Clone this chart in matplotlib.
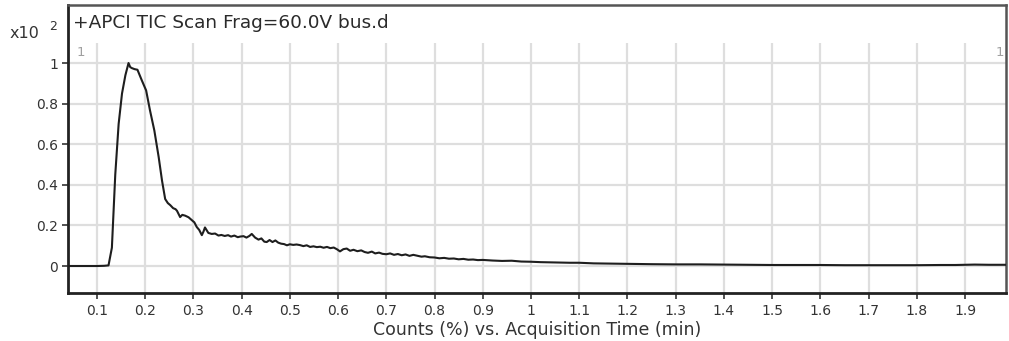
import matplotlib
matplotlib.use("Agg")
import matplotlib.pyplot as plt

plt.rcParams['font.family'] = ['DejaVu Sans']

# Total ion chromatogram (counts in units of 10^2)
times = [0.04, 0.06, 0.08, 0.10, 0.115, 0.124, 0.131, 0.138, 0.145, 0.152,
         0.159, 0.1655, 0.169, 0.1725, 0.178, 0.184, 0.193, 0.202, 0.210, 0.219,
         0.228, 0.235, 0.2415, 0.247, 0.252, 0.258, 0.263, 0.266, 0.2725, 0.277,
         0.283, 0.290, 0.297, 0.302, 0.307, 0.312, 0.3175, 0.321, 0.324, 0.328,
         0.331, 0.338, 0.345, 0.352, 0.358, 0.365, 0.372, 0.378, 0.385, 0.392,
         0.397, 0.404, 0.41, 0.416, 0.421, 0.428, 0.435, 0.441, 0.447, 0.452,
         0.458, 0.464, 0.470, 0.476, 0.482, 0.488, 0.494, 0.50, 0.507, 0.514,
         0.521, 0.528, 0.535, 0.542, 0.549, 0.556, 0.563, 0.570, 0.577, 0.584,
         0.591, 0.598, 0.604, 0.611, 0.618, 0.625, 0.632, 0.64, 0.648, 0.655,
         0.662, 0.67, 0.677, 0.685, 0.692, 0.70, 0.708, 0.716, 0.724, 0.732,
         0.74, 0.748, 0.756, 0.765, 0.773, 0.78, 0.79, 0.80, 0.81, 0.82,
         0.83, 0.84, 0.85, 0.86, 0.87, 0.88, 0.89, 0.90, 0.92, 0.94,
         0.96, 0.98, 1.00, 1.02, 1.04, 1.06, 1.08, 1.10, 1.13, 1.16,
         1.20, 1.25, 1.30, 1.35, 1.40, 1.45, 1.50, 1.55, 1.60, 1.65,
         1.70, 1.75, 1.80, 1.85, 1.88, 1.92, 1.95, 1.985]
counts = [0.0, 0.0, 0.0, 0.0, 0.001, 0.003, 0.09, 0.45, 0.70, 0.85,
          0.94, 1.0, 0.98, 0.975, 0.97, 0.967, 0.915, 0.865, 0.767, 0.668,
          0.537, 0.42, 0.33, 0.31, 0.30, 0.285, 0.28, 0.272, 0.241, 0.252,
          0.248, 0.24, 0.225, 0.215, 0.192, 0.178, 0.152, 0.17, 0.19, 0.175,
          0.163, 0.158, 0.16, 0.15, 0.153, 0.148, 0.152, 0.145, 0.15, 0.142,
          0.145, 0.147, 0.14, 0.148, 0.158, 0.14, 0.13, 0.136, 0.12, 0.118,
          0.128, 0.118, 0.126, 0.115, 0.11, 0.108, 0.102, 0.107, 0.104, 0.106,
          0.103, 0.098, 0.102, 0.094, 0.097, 0.093, 0.095, 0.09, 0.094, 0.088,
          0.091, 0.082, 0.072, 0.083, 0.086, 0.075, 0.08, 0.073, 0.077, 0.069,
          0.065, 0.071, 0.062, 0.066, 0.06, 0.058, 0.062, 0.055, 0.059, 0.053,
          0.057, 0.05, 0.055, 0.05, 0.046, 0.048, 0.043, 0.042, 0.038, 0.04,
          0.036, 0.037, 0.033, 0.035, 0.031, 0.032, 0.029, 0.03, 0.027, 0.025,
          0.026, 0.022, 0.021, 0.019, 0.018, 0.017, 0.016, 0.016, 0.013, 0.012,
          0.011, 0.009, 0.008, 0.008, 0.007, 0.006, 0.005, 0.005, 0.005, 0.004,
          0.004, 0.004, 0.004, 0.005, 0.005, 0.007, 0.006, 0.006]

x_ticks = [0.1, 0.2, 0.3, 0.4, 0.5, 0.6, 0.7, 0.8, 0.9, 1.0,
           1.1, 1.2, 1.3, 1.4, 1.5, 1.6, 1.7, 1.8, 1.9]
x_tick_labels = ['0.1', '0.2', '0.3', '0.4', '0.5', '0.6', '0.7', '0.8', '0.9', '1',
                 '1.1', '1.2', '1.3', '1.4', '1.5', '1.6', '1.7', '1.8', '1.9']
y_ticks = [0, 0.2, 0.4, 0.6, 0.8, 1.0]
y_tick_labels = ['0', '0.2', '0.4', '0.6', '0.8', '1']

title = '+APCI TIC Scan Frag=60.0V bus.d'
x_label = 'Counts (%) vs. Acquisition Time (min)'

W, H = 1009, 341
fig = plt.figure(figsize=(W / 100, H / 100), dpi=100)
ax = fig.add_axes([68 / W, 1 - 293 / H, (1006 - 68) / W, (293 - 5) / H])

x_min, x_max = 0.04, 1.985
y_min, y_max = -0.133, 1.286
grid_top = 1.1
ax.set_xlim(x_min, x_max)
ax.set_ylim(y_min, y_max)

grid_color = '#dedede'
for yv in y_ticks:
    ax.axhline(yv, color=grid_color, lw=1.6, zorder=0)
ax.vlines(x_ticks, y_min, grid_top, color=grid_color, lw=1.6, zorder=0)

ax.plot(times, counts, color='#1e1e1e', lw=1.5, zorder=3)

ax.set_xticks(x_ticks)
ax.set_xticklabels(x_tick_labels)
ax.set_yticks(y_ticks)
ax.set_yticklabels(y_tick_labels)
ax.tick_params(axis='both', direction='out', length=4, width=1.2,
               colors='#333333', labelsize=10, pad=3)
ax.tick_params(axis='x', pad=4)

for side in ['left', 'bottom']:
    ax.spines[side].set_color('#222222')
    ax.spines[side].set_linewidth(2.0)
for side in ['top', 'right']:
    ax.spines[side].set_color('#555555')
    ax.spines[side].set_linewidth(1.8)

ax.set_xlabel(x_label, fontsize=12.5, color='#333333', labelpad=2)

ax.text(0.051, 1.196, title, fontsize=13.3, color='#2a2a2a', ha='left', va='center')
ax.text(0.057, 1.05, '1', fontsize=9.5, color='#a0a0a0', ha='left', va='center')
ax.text(1.982, 1.05, '1', fontsize=9.5, color='#a0a0a0', ha='right', va='center')

fig.text(10 / W, 1 - 33 / H, 'x10', fontsize=11.5, color='#333333', ha='left', va='center')
fig.text(49 / W, 1 - 27 / H, '2', fontsize=9, color='#333333', ha='left', va='center')

fig.savefig('out.png', dpi=100)
